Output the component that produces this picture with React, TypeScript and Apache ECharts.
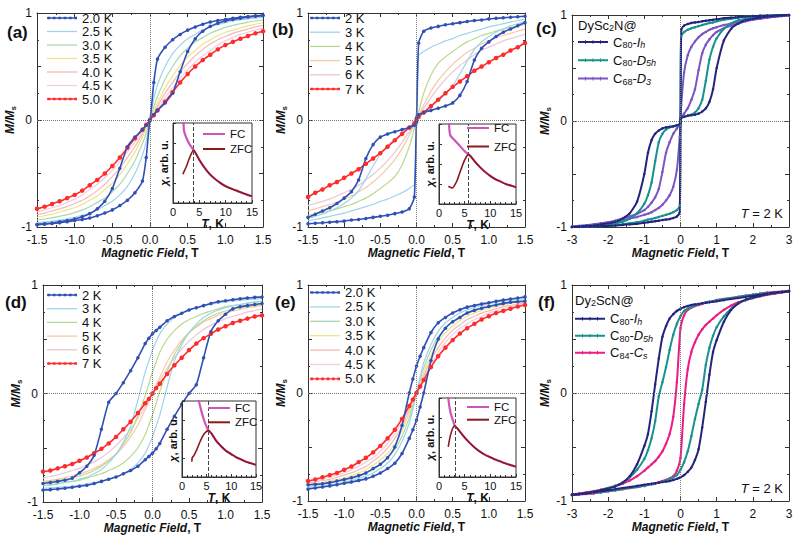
import React, { useEffect, useRef } from 'react';
import * as echarts from 'echarts';

const FONT = '"Liberation Sans", Arial, Helvetica, sans-serif';

// ---------------- field grids (T) ----------------
const H33 = [-1.5,-1.4,-1.3,-1.2,-1.1,-1.0,-0.9,-0.8,-0.7,-0.6,-0.5,-0.4,-0.3,-0.2,-0.1,-0.05,0,0.05,0.1,0.2,0.3,0.4,0.5,0.6,0.7,0.8,0.9,1.0,1.1,1.2,1.3,1.4,1.5];
const H33B = [-1.5,-1.4,-1.3,-1.2,-1.1,-1.0,-0.9,-0.8,-0.7,-0.6,-0.5,-0.4,-0.3,-0.2,-0.1,-0.03,0,0.03,0.1,0.2,0.3,0.4,0.5,0.6,0.7,0.8,0.9,1.0,1.1,1.2,1.3,1.4,1.5];
const HC = [-3,-2.8,-2.6,-2.4,-2.2,-2,-1.8,-1.6,-1.4,-1.2,-1,-0.9,-0.8,-0.7,-0.6,-0.5,-0.4,-0.3,-0.2,-0.1,-0.02,0,0.02,0.1,0.2,0.3,0.4,0.5,0.6,0.7,0.8,0.9,1,1.2,1.4,1.6,1.8,2,2.2,2.4,2.6,2.8,3];
const HF = [-3,-2.8,-2.6,-2.4,-2.2,-2,-1.8,-1.6,-1.4,-1.2,-1,-0.9,-0.8,-0.7,-0.6,-0.5,-0.4,-0.3,-0.2,-0.1,0,0.1,0.2,0.3,0.4,0.5,0.6,0.7,0.8,0.9,1,1.2,1.4,1.6,1.8,2,2.2,2.4,2.6,2.8,3];

// ---------------- (a) M/Ms ----------------
const a20Down = [-0.977,-0.97,-0.962,-0.952,-0.94,-0.925,-0.905,-0.875,-0.83,-0.76,-0.64,-0.45,-0.25,-0.16,-0.09,-0.05,0,0.35,0.57,0.68,0.75,0.8,0.84,0.87,0.895,0.915,0.93,0.94,0.95,0.96,0.967,0.973,0.978];
const a20Up = [-0.978,-0.973,-0.967,-0.96,-0.95,-0.94,-0.93,-0.915,-0.895,-0.87,-0.84,-0.8,-0.75,-0.68,-0.57,-0.35,0,0.05,0.09,0.16,0.25,0.45,0.64,0.76,0.83,0.875,0.905,0.925,0.94,0.952,0.962,0.97,0.977];
const a25 = [-0.96,-0.953,-0.945,-0.935,-0.925,-0.91,-0.89,-0.87,-0.84,-0.8,-0.76,-0.7,-0.62,-0.5,-0.33,-0.2,0,0.2,0.33,0.5,0.62,0.7,0.76,0.8,0.84,0.87,0.89,0.91,0.925,0.935,0.945,0.953,0.96];
const a30 = [-0.935,-0.925,-0.915,-0.9,-0.885,-0.865,-0.84,-0.81,-0.77,-0.73,-0.67,-0.6,-0.5,-0.38,-0.22,-0.12,0,0.12,0.22,0.38,0.5,0.6,0.67,0.73,0.77,0.81,0.84,0.865,0.885,0.9,0.915,0.925,0.935];
const a35 = [-0.91,-0.895,-0.88,-0.86,-0.84,-0.82,-0.79,-0.75,-0.71,-0.65,-0.59,-0.51,-0.41,-0.3,-0.16,-0.08,0,0.08,0.16,0.3,0.41,0.51,0.59,0.65,0.71,0.75,0.79,0.82,0.84,0.86,0.88,0.895,0.91];
const a40 = [-0.885,-0.87,-0.85,-0.83,-0.81,-0.78,-0.75,-0.71,-0.66,-0.6,-0.53,-0.45,-0.35,-0.25,-0.13,-0.06,0,0.06,0.13,0.25,0.35,0.45,0.53,0.6,0.66,0.71,0.75,0.78,0.81,0.83,0.85,0.87,0.885];
const a45 = [-0.86,-0.84,-0.82,-0.8,-0.77,-0.74,-0.7,-0.65,-0.6,-0.54,-0.47,-0.39,-0.3,-0.21,-0.11,-0.05,0,0.05,0.11,0.21,0.3,0.39,0.47,0.54,0.6,0.65,0.7,0.74,0.77,0.8,0.82,0.84,0.86];
const a50 = [-0.83,-0.81,-0.785,-0.76,-0.73,-0.7,-0.66,-0.61,-0.56,-0.5,-0.43,-0.35,-0.26,-0.17,-0.09,-0.045,0,0.045,0.09,0.17,0.26,0.35,0.43,0.5,0.56,0.61,0.66,0.7,0.73,0.76,0.785,0.81,0.83];

// ---------------- (b) ----------------
const b2Down = [-0.91,-0.88,-0.85,-0.82,-0.78,-0.73,-0.67,-0.56,-0.36,-0.23,-0.16,-0.13,-0.11,-0.09,-0.07,-0.05,0.02,0.72,0.83,0.86,0.875,0.89,0.9,0.91,0.92,0.93,0.935,0.945,0.95,0.955,0.96,0.965,0.97];
const b2Up = [-0.97,-0.965,-0.96,-0.955,-0.95,-0.945,-0.935,-0.93,-0.92,-0.91,-0.9,-0.89,-0.875,-0.86,-0.83,-0.72,-0.02,0.05,0.07,0.09,0.11,0.13,0.16,0.23,0.36,0.56,0.67,0.73,0.78,0.82,0.85,0.88,0.91];
const b3Down = [-0.92,-0.9,-0.88,-0.85,-0.82,-0.78,-0.73,-0.66,-0.55,-0.43,-0.32,-0.24,-0.18,-0.13,-0.08,-0.05,0.05,0.6,0.64,0.68,0.71,0.74,0.76,0.79,0.81,0.83,0.85,0.87,0.885,0.9,0.915,0.93,0.94];
const b3Up = [-0.94,-0.93,-0.915,-0.9,-0.885,-0.87,-0.85,-0.83,-0.81,-0.79,-0.76,-0.74,-0.71,-0.68,-0.64,-0.6,-0.05,0.05,0.08,0.13,0.18,0.24,0.32,0.43,0.55,0.66,0.73,0.78,0.82,0.85,0.88,0.9,0.92];
const b4 = [-0.89,-0.88,-0.865,-0.85,-0.83,-0.81,-0.79,-0.76,-0.73,-0.69,-0.64,-0.59,-0.53,-0.42,-0.25,-0.08,0,0.08,0.25,0.42,0.53,0.59,0.64,0.69,0.73,0.76,0.79,0.81,0.83,0.85,0.865,0.88,0.89];
const b5 = [-0.85,-0.83,-0.81,-0.79,-0.77,-0.74,-0.71,-0.67,-0.63,-0.58,-0.52,-0.45,-0.37,-0.27,-0.14,-0.05,0,0.05,0.14,0.27,0.37,0.45,0.52,0.58,0.63,0.67,0.71,0.74,0.77,0.79,0.81,0.83,0.85];
const b6 = [-0.8,-0.78,-0.76,-0.74,-0.71,-0.68,-0.65,-0.61,-0.56,-0.51,-0.45,-0.38,-0.3,-0.21,-0.11,-0.04,0,0.04,0.11,0.21,0.3,0.38,0.45,0.51,0.56,0.61,0.65,0.68,0.71,0.74,0.76,0.78,0.8];
const b7 = [-0.72,-0.68,-0.65,-0.61,-0.58,-0.54,-0.5,-0.46,-0.41,-0.36,-0.31,-0.25,-0.19,-0.13,-0.07,-0.03,0,0.03,0.07,0.13,0.19,0.25,0.31,0.36,0.41,0.46,0.5,0.54,0.58,0.61,0.65,0.68,0.72];

// ---------------- (c) ----------------
const cIhDown = [-1.0,-0.995,-0.99,-0.985,-0.975,-0.965,-0.95,-0.92,-0.87,-0.76,-0.5,-0.3,-0.18,-0.12,-0.09,-0.07,-0.06,-0.055,-0.05,-0.04,-0.03,0.02,0.86,0.9,0.915,0.925,0.93,0.935,0.94,0.945,0.95,0.955,0.96,0.97,0.975,0.98,0.985,0.99,0.992,0.994,0.996,0.998,1.0];
const cIhUp = [-1.0,-0.998,-0.996,-0.994,-0.992,-0.99,-0.985,-0.98,-0.975,-0.97,-0.96,-0.955,-0.95,-0.945,-0.94,-0.935,-0.93,-0.925,-0.915,-0.9,-0.86,-0.02,0.03,0.04,0.05,0.055,0.06,0.07,0.09,0.12,0.18,0.3,0.5,0.76,0.87,0.92,0.95,0.965,0.975,0.985,0.99,0.995,1.0];
const cD5hDown = [-1.0,-0.997,-0.993,-0.988,-0.982,-0.975,-0.965,-0.95,-0.92,-0.87,-0.78,-0.7,-0.58,-0.38,-0.2,-0.12,-0.08,-0.06,-0.05,-0.04,-0.03,0.04,0.8,0.84,0.86,0.875,0.885,0.895,0.905,0.915,0.925,0.93,0.94,0.955,0.965,0.975,0.985,0.99,0.993,0.995,0.997,0.999,1.0];
const cD5hUp = [-1.0,-0.999,-0.997,-0.995,-0.993,-0.99,-0.985,-0.975,-0.965,-0.955,-0.94,-0.93,-0.925,-0.915,-0.905,-0.895,-0.885,-0.875,-0.86,-0.84,-0.8,-0.04,0.03,0.04,0.05,0.06,0.08,0.12,0.2,0.38,0.58,0.7,0.78,0.87,0.92,0.95,0.965,0.975,0.982,0.988,0.993,0.997,1.0];
const cD3Down = [-0.995,-0.99,-0.983,-0.975,-0.965,-0.955,-0.94,-0.92,-0.9,-0.875,-0.84,-0.81,-0.77,-0.72,-0.64,-0.48,-0.3,-0.2,-0.12,-0.07,-0.03,0.02,0.15,0.46,0.62,0.7,0.75,0.79,0.82,0.84,0.86,0.875,0.885,0.905,0.92,0.935,0.95,0.96,0.97,0.978,0.985,0.99,0.995];
const cD3Up = [-0.995,-0.99,-0.985,-0.978,-0.97,-0.96,-0.95,-0.935,-0.92,-0.905,-0.885,-0.875,-0.86,-0.84,-0.82,-0.79,-0.75,-0.7,-0.62,-0.46,-0.15,-0.02,0.03,0.07,0.12,0.2,0.3,0.48,0.64,0.72,0.77,0.81,0.84,0.875,0.9,0.92,0.94,0.955,0.965,0.975,0.983,0.99,0.995];

// ---------------- (d) ----------------
const d2Down = [-0.83,-0.82,-0.81,-0.8,-0.78,-0.73,-0.67,-0.57,-0.33,-0.08,0.0,0.1,0.21,0.33,0.46,0.51,0.55,0.58,0.61,0.67,0.71,0.74,0.77,0.79,0.81,0.83,0.845,0.855,0.865,0.873,0.88,0.886,0.89];
const d2Up = [-0.89,-0.886,-0.88,-0.873,-0.865,-0.855,-0.845,-0.83,-0.81,-0.79,-0.77,-0.74,-0.71,-0.67,-0.61,-0.58,-0.55,-0.51,-0.46,-0.33,-0.21,-0.1,0.0,0.08,0.33,0.57,0.67,0.73,0.78,0.8,0.81,0.82,0.83];
const d3Down = [-0.85,-0.845,-0.835,-0.82,-0.81,-0.79,-0.77,-0.74,-0.7,-0.64,-0.56,-0.45,-0.3,-0.06,0.2,0.3,0.4,0.48,0.55,0.64,0.7,0.74,0.77,0.79,0.81,0.82,0.835,0.845,0.855,0.86,0.865,0.87,0.875];
const d3Up = [-0.875,-0.87,-0.865,-0.86,-0.855,-0.845,-0.835,-0.82,-0.81,-0.79,-0.77,-0.74,-0.7,-0.64,-0.55,-0.48,-0.4,-0.3,-0.2,0.06,0.3,0.45,0.56,0.64,0.7,0.74,0.77,0.79,0.81,0.82,0.835,0.845,0.85];
const d4Down = [-0.82,-0.81,-0.8,-0.79,-0.78,-0.76,-0.74,-0.71,-0.67,-0.62,-0.56,-0.47,-0.36,-0.2,-0.02,0.09,0.2,0.29,0.38,0.5,0.58,0.64,0.68,0.71,0.74,0.76,0.78,0.8,0.81,0.82,0.83,0.84,0.85];
const d4Up = [-0.85,-0.84,-0.83,-0.82,-0.81,-0.8,-0.78,-0.76,-0.74,-0.71,-0.68,-0.64,-0.58,-0.5,-0.38,-0.29,-0.2,-0.09,0.02,0.2,0.36,0.47,0.56,0.62,0.67,0.71,0.74,0.76,0.78,0.79,0.8,0.81,0.82];
const d5 = [-0.81,-0.8,-0.79,-0.775,-0.76,-0.74,-0.72,-0.69,-0.66,-0.61,-0.56,-0.49,-0.4,-0.29,-0.15,-0.08,0,0.08,0.15,0.29,0.4,0.49,0.56,0.61,0.66,0.69,0.72,0.74,0.76,0.775,0.79,0.8,0.81];
const d6 = [-0.78,-0.765,-0.75,-0.73,-0.71,-0.69,-0.66,-0.63,-0.59,-0.54,-0.48,-0.41,-0.33,-0.23,-0.12,-0.06,0,0.06,0.12,0.23,0.33,0.41,0.48,0.54,0.59,0.63,0.66,0.69,0.71,0.73,0.75,0.765,0.78];
const d7 = [-0.72,-0.71,-0.69,-0.67,-0.65,-0.62,-0.59,-0.55,-0.51,-0.46,-0.4,-0.33,-0.26,-0.18,-0.09,-0.05,0,0.05,0.09,0.18,0.26,0.33,0.4,0.46,0.51,0.55,0.59,0.62,0.65,0.67,0.69,0.71,0.72];

// ---------------- (e) ----------------
const e20Down = [-0.85,-0.845,-0.84,-0.83,-0.815,-0.8,-0.785,-0.765,-0.74,-0.7,-0.66,-0.6,-0.5,-0.3,0.0,0.13,0.25,0.34,0.42,0.56,0.65,0.7,0.74,0.77,0.795,0.81,0.825,0.835,0.85,0.86,0.87,0.88,0.89];
const e20Up = [-0.89,-0.88,-0.87,-0.86,-0.85,-0.835,-0.825,-0.81,-0.795,-0.77,-0.74,-0.7,-0.65,-0.56,-0.42,-0.34,-0.25,-0.13,0.0,0.3,0.5,0.6,0.66,0.7,0.74,0.765,0.785,0.8,0.815,0.83,0.84,0.845,0.85];
const e25 = [-0.875,-0.87,-0.86,-0.85,-0.84,-0.825,-0.81,-0.79,-0.77,-0.74,-0.7,-0.65,-0.57,-0.45,-0.28,-0.15,0,0.15,0.28,0.45,0.57,0.65,0.7,0.74,0.77,0.79,0.81,0.825,0.84,0.85,0.86,0.87,0.875];
const e30 = [-0.865,-0.855,-0.845,-0.835,-0.82,-0.81,-0.79,-0.77,-0.74,-0.71,-0.66,-0.6,-0.52,-0.4,-0.23,-0.12,0,0.12,0.23,0.4,0.52,0.6,0.66,0.71,0.74,0.77,0.79,0.81,0.82,0.835,0.845,0.855,0.865];
const e35 = [-0.85,-0.84,-0.83,-0.815,-0.8,-0.785,-0.765,-0.74,-0.71,-0.67,-0.62,-0.56,-0.47,-0.35,-0.19,-0.1,0,0.1,0.19,0.35,0.47,0.56,0.62,0.67,0.71,0.74,0.765,0.785,0.8,0.815,0.83,0.84,0.85];
const e40 = [-0.835,-0.825,-0.81,-0.8,-0.78,-0.76,-0.74,-0.71,-0.68,-0.63,-0.58,-0.51,-0.42,-0.31,-0.16,-0.08,0,0.08,0.16,0.31,0.42,0.51,0.58,0.63,0.68,0.71,0.74,0.76,0.78,0.8,0.81,0.825,0.835];
const e45 = [-0.82,-0.81,-0.795,-0.78,-0.76,-0.74,-0.71,-0.68,-0.64,-0.6,-0.54,-0.47,-0.38,-0.27,-0.14,-0.07,0,0.07,0.14,0.27,0.38,0.47,0.54,0.6,0.64,0.68,0.71,0.74,0.76,0.78,0.795,0.81,0.82];
const e50 = [-0.815,-0.8,-0.78,-0.76,-0.74,-0.71,-0.68,-0.64,-0.6,-0.55,-0.49,-0.42,-0.34,-0.24,-0.12,-0.06,0,0.06,0.12,0.24,0.34,0.42,0.49,0.55,0.6,0.64,0.68,0.71,0.74,0.76,0.78,0.8,0.815];

// ---------------- (f) ----------------
const fIhDown = [-0.94,-0.935,-0.925,-0.915,-0.9,-0.885,-0.865,-0.83,-0.77,-0.66,-0.49,-0.38,-0.17,0.08,0.32,0.52,0.62,0.69,0.73,0.76,0.78,0.795,0.805,0.815,0.82,0.825,0.83,0.835,0.84,0.845,0.85,0.86,0.87,0.88,0.89,0.9,0.91,0.92,0.93,0.935,0.945];
const fIhUp = [-0.945,-0.935,-0.93,-0.92,-0.91,-0.9,-0.89,-0.88,-0.87,-0.86,-0.85,-0.845,-0.84,-0.835,-0.83,-0.825,-0.82,-0.815,-0.805,-0.795,-0.78,-0.76,-0.73,-0.69,-0.62,-0.52,-0.32,-0.08,0.17,0.38,0.49,0.66,0.77,0.83,0.865,0.885,0.9,0.915,0.925,0.935,0.94];
const fD5hDown = [-0.945,-0.935,-0.925,-0.915,-0.9,-0.88,-0.86,-0.83,-0.78,-0.71,-0.61,-0.53,-0.42,-0.26,-0.03,0.1,0.24,0.4,0.54,0.64,0.71,0.76,0.78,0.795,0.81,0.82,0.83,0.84,0.845,0.85,0.86,0.87,0.88,0.89,0.9,0.91,0.92,0.925,0.93,0.935,0.94];
const fD5hUp = [-0.94,-0.935,-0.93,-0.925,-0.92,-0.91,-0.9,-0.89,-0.88,-0.87,-0.86,-0.85,-0.845,-0.84,-0.83,-0.82,-0.81,-0.795,-0.78,-0.76,-0.71,-0.64,-0.54,-0.4,-0.24,-0.1,0.03,0.26,0.42,0.53,0.61,0.71,0.78,0.83,0.86,0.88,0.9,0.915,0.925,0.935,0.945];
const fCsDown = [-0.94,-0.93,-0.92,-0.91,-0.895,-0.88,-0.86,-0.84,-0.81,-0.77,-0.72,-0.69,-0.66,-0.63,-0.59,-0.54,-0.47,-0.38,-0.22,0.1,0.6,0.72,0.77,0.79,0.805,0.815,0.825,0.835,0.845,0.85,0.86,0.87,0.88,0.89,0.9,0.91,0.92,0.93,0.935,0.94,0.945];
const fCsUp = [-0.945,-0.94,-0.935,-0.93,-0.92,-0.91,-0.9,-0.89,-0.88,-0.87,-0.86,-0.85,-0.845,-0.835,-0.825,-0.815,-0.805,-0.79,-0.77,-0.72,-0.6,-0.1,0.22,0.38,0.47,0.54,0.59,0.63,0.66,0.69,0.72,0.77,0.81,0.84,0.86,0.88,0.895,0.91,0.92,0.93,0.94];

// ---------------- insets: chi vs T (K) ----------------
const insAfcT = [1.95,2.0,2.1,2.5,3.0,3.5,3.9,4.5,5,6,7,8,9,10,11,12,13,14,15];
const insAfc = [1.08,1.0,0.9,0.82,0.75,0.7,0.66,0.6,0.54,0.44,0.36,0.3,0.25,0.21,0.18,0.155,0.13,0.105,0.085];
const insAzfcT = [1.9,2.0,2.5,3.0,3.5,3.9,4.5,5,6,7,8,9,10,11,12,13,14,15];
const insAzfc = [0.36,0.38,0.45,0.54,0.62,0.66,0.6,0.54,0.44,0.36,0.3,0.25,0.21,0.18,0.155,0.13,0.105,0.085];

const insBfcT = [1.95,2.0,2.2,3,4,5,5.75,6.5,7,8,9,10,11,12,13,14,15];
const insBfc = [1.05,0.95,0.86,0.8,0.73,0.66,0.62,0.57,0.53,0.46,0.4,0.35,0.31,0.28,0.25,0.23,0.21];
const insBzfcT = [1.8,2.2,2.6,3,3.5,4,4.5,5,5.75,6.5,7,8,9,10,11,12,13,14,15];
const insBzfc = [0.22,0.21,0.2,0.23,0.29,0.38,0.47,0.55,0.62,0.57,0.53,0.46,0.4,0.35,0.31,0.28,0.25,0.23,0.21];

const insDfcT = [3.2,3.4,4,4.5,5,5.4,6,7,8,9,10,11,12,13,14,15];
const insDfc = [1.05,1.0,0.85,0.74,0.66,0.61,0.57,0.47,0.4,0.34,0.3,0.26,0.23,0.2,0.18,0.16];
const insDzfcT = [2.0,2.05,2.4,3.0,3.7,4.5,5.4,6,7,8,9,10,11,12,13,14,15];
const insDzfc = [0.2,0.25,0.28,0.36,0.47,0.57,0.61,0.57,0.47,0.4,0.34,0.3,0.26,0.23,0.2,0.18,0.16];

const insEfcT = [1.7,1.8,2.0,2.3,2.7,3.1,3.5,4,5,6,7,8,9,10,11,12,13,14,15];
const insEfc = [1.05,1.0,0.9,0.8,0.72,0.645,0.62,0.58,0.5,0.43,0.37,0.32,0.28,0.25,0.22,0.195,0.17,0.15,0.13];
const insEzfcT = [1.8,2.2,2.7,3.1,3.5,4,5,6,7,8,9,10,11,12,13,14,15];
const insEzfc = [0.38,0.52,0.62,0.645,0.62,0.58,0.5,0.43,0.37,0.32,0.28,0.25,0.22,0.195,0.17,0.15,0.13];

const blockingT = [3.9, 5.75, 5.4, 3.1];

// ---------------- labels ----------------
const legA = ['2.0 K','2.5 K','3.0 K','3.5 K','4.0 K','4.5 K','5.0 K'];
const legB = ['2 K','3 K','4 K','5 K','6 K','7 K'];
const legC = ['C80-Ih','C80-D5h','C68-D3'];
const legF = ['C80-Ih','C80-D5h','C84-Cs'];
const xTicksMain = [-1.5, 1.5, 0.5];
const xTicksWide = [-3, 3, 1];

// ---------------- styling ----------------
const COL: Record<string, string> = {
  blue: '#3050b4', ltblue: '#9fd3ea', ltgreen: '#a9d9b1', yellow: '#efe48c', pink: '#f4b9b9', ltpink: '#f2cfe0',
  red: '#ff2b2b', ygreen: '#b9d98c', orange: '#f8c9a6', pink6: '#ebc6d6',
  navy: '#24247e', teal: '#19928d', purple: '#7d55c3', magenta: '#ec1c84', fc: '#cd55ba', zfc: '#8a1b1b',
};
const TXT = '#111';
const AX = '#333';
// legend icons: line with small dots / with small tick marks / plain line
const ICON_DOTS = 'path://M0,1.8H30V3.2H0Z M0.5,1.2H3.1V3.8H0.5Z M5.9,1.2H8.5V3.8H5.9Z M11.3,1.2H13.9V3.8H11.3Z M16.7,1.2H19.3V3.8H16.7Z M22.1,1.2H24.7V3.8H22.1Z M27.4,1.2H30V3.8H27.4Z';
const ICON_TICKS = 'path://M0,1.5H30V3.5H0Z M7,0.7H8V4.3H7Z M14.5,0.7H15.5V4.3H14.5Z M22,0.7H23V4.3H22Z';
const ICON_LINE = 'path://M0,0H30V1.3H0Z';
const ICON_LINE_INS = 'path://M0,0H22V2H0Z';

type Curve = { name: string; c: string; xs: number[]; ys: number[][]; kind: 'faint' | 'mark' | 'thick' };
type Panel = {
  box: [number, number, number, number]; xr: number[]; dec: number; tag: string; tagXY: [number, number];
  leg: { left: number; top: number; gap: number; items: string[]; rich?: boolean };
  title?: { text: string; x: number; y: number }; tLabel?: { x: number; y: number };
  curves: Curve[];
};

const PANELS: Panel[] = [
  {
    box: [37, 13, 226, 214], xr: xTicksMain, dec: 1, tag: '(a)', tagXY: [7, 32],
    leg: { left: 47, top: 11.5, gap: 0.5, items: legA },
    curves: [
      { name: '4.5 K', c: 'ltpink', xs: H33, ys: [a45], kind: 'faint' },
      { name: '4.0 K', c: 'pink', xs: H33, ys: [a40], kind: 'faint' },
      { name: '3.5 K', c: 'yellow', xs: H33, ys: [a35], kind: 'faint' },
      { name: '3.0 K', c: 'ltgreen', xs: H33, ys: [a30], kind: 'faint' },
      { name: '2.5 K', c: 'ltblue', xs: H33, ys: [a25], kind: 'faint' },
      { name: '5.0 K', c: 'red', xs: H33, ys: [a50], kind: 'mark' },
      { name: '2.0 K', c: 'blue', xs: H33, ys: [a20Down, a20Up], kind: 'mark' },
    ],
  },
  {
    box: [308, 13, 217, 214], xr: xTicksMain, dec: 1, tag: '(b)', tagXY: [272, 29],
    leg: { left: 310, top: 11.5, gap: 1.2, items: legB },
    curves: [
      { name: '6 K', c: 'pink6', xs: H33B, ys: [b6], kind: 'faint' },
      { name: '5 K', c: 'orange', xs: H33B, ys: [b5], kind: 'faint' },
      { name: '4 K', c: 'ygreen', xs: H33B, ys: [b4], kind: 'faint' },
      { name: '3 K', c: 'ltblue', xs: H33B, ys: [b3Down, b3Up], kind: 'faint' },
      { name: '7 K', c: 'red', xs: H33B, ys: [b7], kind: 'mark' },
      { name: '2 K', c: 'blue', xs: H33B, ys: [b2Down, b2Up], kind: 'mark' },
    ],
  },
  {
    box: [572, 15, 217, 212], xr: xTicksWide, dec: 0, tag: '(c)', tagXY: [536, 28],
    leg: { left: 578, top: 35.5, gap: 4.3, items: legC, rich: true },
    title: { text: '{n|DySc}{s|2}{n|N@}', x: 578, y: 25 }, tLabel: { x: 783, y: 213 },
    curves: [
      { name: 'C68-D3', c: 'purple', xs: HC, ys: [cD3Down, cD3Up], kind: 'thick' },
      { name: 'C80-D5h', c: 'teal', xs: HC, ys: [cD5hDown, cD5hUp], kind: 'thick' },
      { name: 'C80-Ih', c: 'navy', xs: HC, ys: [cIhDown, cIhUp], kind: 'thick' },
    ],
  },
  {
    box: [43, 285, 219, 217], xr: xTicksMain, dec: 1, tag: '(d)', tagXY: [5, 302],
    leg: { left: 47, top: 288.5, gap: 0.7, items: legB },
    curves: [
      { name: '6 K', c: 'pink6', xs: H33, ys: [d6], kind: 'faint' },
      { name: '5 K', c: 'orange', xs: H33, ys: [d5], kind: 'faint' },
      { name: '4 K', c: 'ygreen', xs: H33, ys: [d4Down, d4Up], kind: 'faint' },
      { name: '3 K', c: 'ltblue', xs: H33, ys: [d3Down, d3Up], kind: 'faint' },
      { name: '7 K', c: 'red', xs: H33, ys: [d7], kind: 'mark' },
      { name: '2 K', c: 'blue', xs: H33, ys: [d2Down, d2Up], kind: 'mark' },
    ],
  },
  {
    box: [308, 285, 217, 216], xr: xTicksMain, dec: 1, tag: '(e)', tagXY: [275, 302],
    leg: { left: 310, top: 286, gap: 1.4, items: legA },
    curves: [
      { name: '4.5 K', c: 'ltpink', xs: H33, ys: [e45], kind: 'faint' },
      { name: '4.0 K', c: 'pink', xs: H33, ys: [e40], kind: 'faint' },
      { name: '3.5 K', c: 'yellow', xs: H33, ys: [e35], kind: 'faint' },
      { name: '3.0 K', c: 'ltgreen', xs: H33, ys: [e30], kind: 'faint' },
      { name: '2.5 K', c: 'ltblue', xs: H33, ys: [e25], kind: 'faint' },
      { name: '5.0 K', c: 'red', xs: H33, ys: [e50], kind: 'mark' },
      { name: '2.0 K', c: 'blue', xs: H33, ys: [e20Down, e20Up], kind: 'mark' },
    ],
  },
  {
    box: [572, 285, 217, 216], xr: xTicksWide, dec: 0, tag: '(f)', tagXY: [538, 302],
    leg: { left: 575, top: 312.3, gap: 3, items: legF, rich: true },
    title: { text: '{n|Dy}{s|2}{n|ScN@}', x: 575, y: 300 }, tLabel: { x: 783, y: 488 },
    curves: [
      { name: 'C84-Cs', c: 'magenta', xs: HF, ys: [fCsDown, fCsUp], kind: 'thick' },
      { name: 'C80-D5h', c: 'teal', xs: HF, ys: [fD5hDown, fD5hUp], kind: 'thick' },
      { name: 'C80-Ih', c: 'navy', xs: HF, ys: [fIhDown, fIhUp], kind: 'thick' },
    ],
  },
];

const INSETS = [
  { box: [173, 123, 79, 80], fcT: insAfcT, fc: insAfc, zT: insAzfcT, z: insAzfc, tb: blockingT[0], leg: { left: 203, top: 128, gap: 3 } },
  { box: [439, 124, 77, 80], fcT: insBfcT, fc: insBfc, zT: insBzfcT, z: insBzfc, tb: blockingT[1], leg: { left: 467, top: 122, gap: 6.5 } },
  { box: [182, 401, 74, 76], fcT: insDfcT, fc: insDfc, zT: insDzfcT, z: insDzfc, tb: blockingT[2], leg: { left: 208, top: 402, gap: 2.3 } },
  { box: [439, 398, 77, 79], fcT: insEfcT, fc: insEfc, zT: insEzfcT, z: insEzfc, tb: blockingT[3], leg: { left: 467, top: 401, gap: 0.7 } },
];

const RICH_LEG: Record<string, string> = {
  'C80-Ih': '{n|C}{s|80}{n|-}{i|I}{si|h}',
  'C80-D5h': '{n|C}{s|80}{n|-}{i|D}{si|5h}',
  'C68-D3': '{n|C}{s|68}{n|-}{i|D}{si|3}',
  'C84-Cs': '{n|C}{s|84}{n|-}{i|C}{si|s}',
};

const pairs = (xs: number[], ys: number[]) => xs.map((x, i) => [x, ys[i]]);

function buildOption() {
  const grid: any[] = [];
  const xAxis: any[] = [];
  const yAxis: any[] = [];
  const series: any[] = [];
  const legend: any[] = [];
  const graphic: any[] = [];

  const tick = { show: true, inside: true, length: 4, lineStyle: { color: AX, width: 1 } };
  const minor = { show: true, splitNumber: 2, length: 2, lineStyle: { color: AX, width: 1 } };
  const line = { show: true, onZero: false, lineStyle: { color: AX, width: 1 } };

  PANELS.forEach((p) => {
    const gi = grid.length;
    grid.push({ left: p.box[0], top: p.box[1], width: p.box[2], height: p.box[3], show: false });
    const [xmin, xmax, xint] = p.xr;
    const xi = xAxis.length;
    xAxis.push({
      gridIndex: gi, type: 'value', min: xmin, max: xmax, interval: xint, position: 'bottom',
      axisLine: line, axisTick: tick, minorTick: minor, splitLine: { show: false },
      axisLabel: { fontSize: 12, color: TXT, fontFamily: FONT, margin: 7, formatter: (v: number) => v.toFixed(p.dec) },
      name: '{bi|Magnetic Field}{b|, T}', nameLocation: 'middle', nameGap: 19,
      nameTextStyle: { rich: {
        bi: { fontSize: 12, fontWeight: 'bold', fontStyle: 'italic', fontFamily: FONT, color: TXT },
        b: { fontSize: 12, fontWeight: 'bold', fontFamily: FONT, color: TXT },
      } },
    });
    xAxis.push({
      gridIndex: gi, type: 'value', min: xmin, max: xmax, interval: xint, position: 'top',
      axisLine: line, axisTick: tick, minorTick: minor, splitLine: { show: false }, axisLabel: { show: false },
    });
    const yi = yAxis.length;
    yAxis.push({
      gridIndex: gi, type: 'value', min: -1, max: 1, interval: 0.5, position: 'left',
      axisLine: line, axisTick: tick, minorTick: minor, splitLine: { show: false },
      axisLabel: { fontSize: 12, color: TXT, fontFamily: FONT, margin: 5,
        formatter: (v: number) => (Math.abs(v - Math.round(v)) < 1e-9 ? String(Math.round(v)) : '') },
      name: '{bi|M/M}{s|s}', nameLocation: 'middle', nameGap: 17,
      nameTextStyle: { rich: {
        bi: { fontSize: 12, fontWeight: 'bold', fontStyle: 'italic', fontFamily: FONT, color: TXT, lineHeight: 14 },
        s: { fontSize: 8, fontWeight: 'bold', fontFamily: FONT, color: TXT, lineHeight: 14, verticalAlign: 'bottom' },
      } },
    });
    yAxis.push({
      gridIndex: gi, type: 'value', min: -1, max: 1, interval: 0.5, position: 'right',
      axisLine: line, axisTick: tick, minorTick: minor, splitLine: { show: false }, axisLabel: { show: false },
    });

    const kindOf: Record<string, string> = {};
    let first = true;
    p.curves.forEach((cv) => {
      const color = COL[cv.c];
      kindOf[cv.name] = cv.kind;
      cv.ys.forEach((ys) => {
        const s: any = {
          type: 'line', name: cv.name, xAxisIndex: xi, yAxisIndex: yi, data: pairs(cv.xs, ys),
          smooth: 0.2, z: cv.kind === 'faint' ? 2 : 3,
          symbol: cv.kind === 'faint' ? 'none' : 'circle',
          symbolSize: cv.kind === 'mark' ? (cv.c === 'red' ? 4.5 : 3.5) : 2.5,
          showSymbol: cv.kind !== 'faint',
          lineStyle: { color, width: cv.kind === 'faint' ? 1.2 : cv.kind === 'thick' ? 2 : 1.6 },
          itemStyle: { color },
          emphasis: { disabled: true },
        };
        if (first) {
          s.markLine = {
            silent: true, symbol: ['none', 'none'], label: { show: false },
            lineStyle: { type: 'dotted', color: '#777', width: 1 },
            data: [{ xAxis: 0 }, { yAxis: 0 }],
          };
          first = false;
        }
        series.push(s);
      });
    });

    const rich = {
      n: { fontSize: 13, fontFamily: FONT, color: TXT, lineHeight: 15 },
      i: { fontSize: 13, fontFamily: FONT, color: TXT, fontStyle: 'italic', lineHeight: 15 },
      s: { fontSize: 9, fontFamily: FONT, color: TXT, lineHeight: 15, verticalAlign: 'bottom' },
      si: { fontSize: 9, fontFamily: FONT, color: TXT, fontStyle: 'italic', lineHeight: 15, verticalAlign: 'bottom' },
    };
    legend.push({
      show: true, orient: 'vertical', left: p.leg.left, top: p.leg.top, padding: 0,
      itemWidth: 30, itemHeight: 5, itemGap: p.leg.gap, selectedMode: false,
      data: p.leg.items.map((n) => {
        const k = kindOf[n];
        if (k === 'mark') return { name: n, icon: ICON_DOTS };
        if (k === 'thick') return { name: n, icon: ICON_TICKS };
        return { name: n, icon: ICON_LINE };
      }),
      formatter: p.leg.rich ? (n: string) => RICH_LEG[n] || n : undefined,
      textStyle: p.leg.rich ? { rich } : { fontSize: 13, fontFamily: FONT, color: TXT, lineHeight: 13 },
    });

    graphic.push({
      type: 'text', x: p.tagXY[0], y: p.tagXY[1], z: 20,
      style: { text: p.tag, fill: TXT, font: `bold 17px ${FONT}`, textVerticalAlign: 'middle' },
    });
    if (p.title) {
      graphic.push({
        type: 'text', x: p.title.x, y: p.title.y, z: 20,
        style: { text: p.title.text, textVerticalAlign: 'middle', rich: {
          n: { fontSize: 13, fontFamily: FONT, fill: TXT, lineHeight: 15 },
          s: { fontSize: 9, fontFamily: FONT, fill: TXT, lineHeight: 15, verticalAlign: 'bottom' },
        } },
      });
    }
    if (p.tLabel) {
      graphic.push({
        type: 'text', x: p.tLabel.x, y: p.tLabel.y, z: 20,
        style: { text: '{i|T}{n| = 2 K}', textAlign: 'right', textVerticalAlign: 'middle', rich: {
          i: { fontSize: 13, fontFamily: FONT, fill: TXT, fontStyle: 'italic' },
          n: { fontSize: 13, fontFamily: FONT, fill: TXT },
        } },
      });
    }
  });

  INSETS.forEach((ins) => {
    const gi = grid.length;
    grid.push({ left: ins.box[0], top: ins.box[1], width: ins.box[2], height: ins.box[3], show: true,
      backgroundColor: '#fff', borderColor: AX, borderWidth: 1, z: 5 });
    const xi = xAxis.length;
    xAxis.push({
      gridIndex: gi, type: 'value', min: 0, max: 15, interval: 5, z: 6,
      axisLine: line, axisTick: { ...tick, length: 3 }, minorTick: { ...minor, splitNumber: 5 }, splitLine: { show: false },
      axisLabel: { fontSize: 11, color: TXT, fontFamily: FONT, margin: 3 },
      name: '{i|T}{b|, K}', nameLocation: 'middle', nameGap: 15,
      nameTextStyle: { rich: {
        i: { fontSize: 12, fontWeight: 'bold', fontStyle: 'italic', fontFamily: FONT, color: TXT },
        b: { fontSize: 12, fontWeight: 'bold', fontFamily: FONT, color: TXT },
      } },
    });
    const yi = yAxis.length;
    yAxis.push({
      gridIndex: gi, type: 'value', min: 0, max: 1, interval: 0.25, z: 6,
      axisLine: line, axisTick: { ...tick, length: 3 }, minorTick: { show: false }, splitLine: { show: false },
      axisLabel: { show: false },
      name: '{i|χ}{b|, arb. u.}', nameLocation: 'middle', nameGap: 4,
      nameTextStyle: { rich: {
        i: { fontSize: 11, fontWeight: 'bold', fontStyle: 'italic', fontFamily: FONT, color: TXT },
        b: { fontSize: 11, fontWeight: 'bold', fontFamily: FONT, color: TXT },
      } },
    });
    series.push({
      type: 'line', name: 'FC', xAxisIndex: xi, yAxisIndex: yi, data: pairs(ins.fcT, ins.fc), z: 7,
      smooth: 0.3, symbol: 'none', lineStyle: { color: COL.fc, width: 2.2 }, itemStyle: { color: COL.fc },
      emphasis: { disabled: true },
    });
    series.push({
      type: 'line', name: 'ZFC', xAxisIndex: xi, yAxisIndex: yi, data: pairs(ins.zT, ins.z), z: 8,
      smooth: 0.3, symbol: 'none', lineStyle: { color: COL.zfc, width: 1.6 }, itemStyle: { color: COL.zfc },
      emphasis: { disabled: true },
      markLine: {
        silent: true, symbol: ['none', 'none'], label: { show: false },
        lineStyle: { type: 'dashed', color: '#444', width: 1 }, data: [{ xAxis: ins.tb }],
      },
    });
    legend.push({
      show: true, orient: 'vertical', left: ins.leg.left, top: ins.leg.top, padding: 0, z: 9,
      itemWidth: 22, itemHeight: 5, itemGap: ins.leg.gap, selectedMode: false,
      data: [{ name: 'FC', icon: ICON_LINE_INS }, { name: 'ZFC', icon: ICON_LINE_INS }],
      textStyle: { fontSize: 11.5, fontFamily: FONT, color: TXT, lineHeight: 11 },
    });
  });

  return { animation: false, backgroundColor: '#fff', grid, xAxis, yAxis, series, legend, graphic };
}

export default function App() {
  const ref = useRef<HTMLDivElement>(null);
  useEffect(() => {
    const chart = echarts.init(ref.current!, null, { renderer: 'svg' });
    chart.setOption(buildOption() as any);
    return () => chart.dispose();
  }, []);
  return <div ref={ref} style={{ position: 'absolute', left: 0, top: 0, width: 800, height: 545 }} />;
}
